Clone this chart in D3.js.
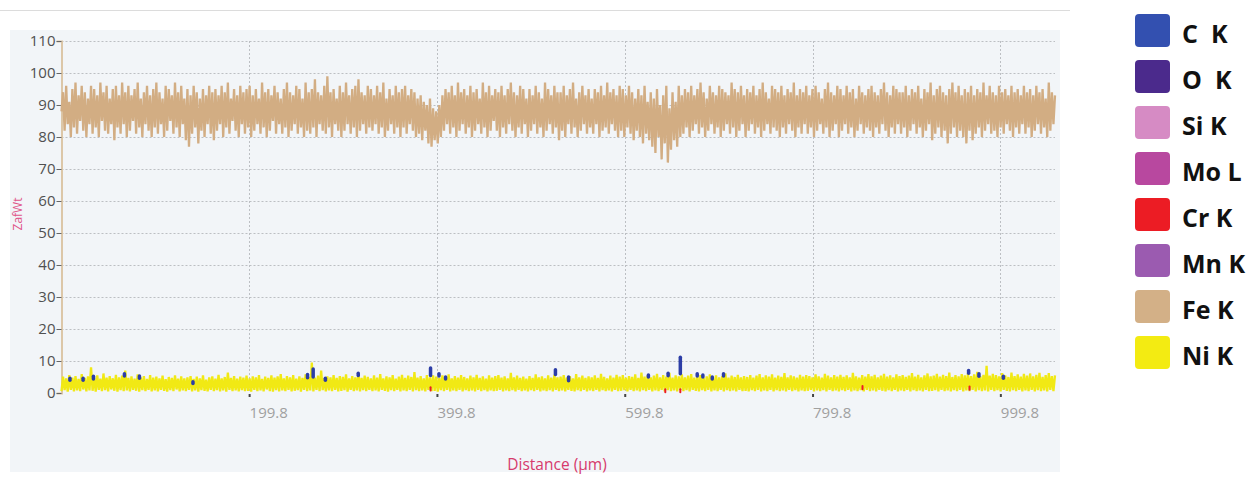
<!DOCTYPE html>
<html>
<head>
<meta charset="utf-8">
<script src="https://cdn.jsdelivr.net/npm/d3@7"></script>
<style>
  body { margin: 0; background: #ffffff; }
  svg { display: block; font-family: "Open Sans", "DejaVu Sans", sans-serif; }
</style>
</head>
<body>
<div id="my_dataviz"></div>
<script>
// éléments de la légende
const elements = ["C  K", "O  K", "Si K", "Mo L", "Cr K", "Mn K", "Fe K", "Ni K"];
const couleurs = ["#3350b0", "#4b2a8c", "#d68bc4", "#b8489f", "#ec1c24", "#9b5bb0", "#d3b087", "#f3eb12"];

// graduations
const yTicks = [0, 10, 20, 30, 40, 50, 60, 70, 80, 90, 100, 110];
const xTicks = [199.8, 399.8, 599.8, 799.8, 999.8];
const distMax = 1058;

// Fe K (ZafWt), un point par pas de mesure
const feK = [
  88,94,82,96,84,91,80,95,83,97,81,93,85,96,82,94,80,92,84,96,
  81,95,83,93,80,97,85,94,82,96,81,92,84,95,79,96,83,93,81,97,
  84,94,80,96,82,93,85,95,81,97,83,92,80,94,84,96,82,93,80,95,
  83,97,81,94,84,92,80,96,82,95,85,93,81,97,83,94,80,96,84,92,
  79,95,77,93,81,96,83,94,78,92,82,95,80,93,84,96,81,94,79,95,
  82,93,84,96,80,94,83,97,81,92,85,95,82,93,80,96,84,94,81,95,
  83,96,80,93,82,95,84,92,81,97,83,94,80,95,82,93,85,96,81,94,
  84,92,81,95,83,97,80,94,82,93,84,96,81,95,83,92,80,97,82,94,
  81,95,83,98,80,94,84,93,82,96,81,99,83,94,80,95,84,92,82,96,
  80,94,82,97,84,93,81,95,83,96,80,98,82,94,84,93,81,96,83,95,
  82,93,84,96,81,94,83,97,80,92,82,95,84,93,81,96,83,94,80,95,
  83,96,81,93,84,95,82,94,80,92,81,93,79,91,82,90,78,92,77,89,
  79,88,78,90,80,93,82,95,84,94,81,96,83,93,80,97,82,94,84,95,
  81,93,83,96,80,94,82,95,84,92,81,97,83,94,80,96,82,93,85,95,
  82,94,80,96,83,93,81,95,84,97,82,94,80,93,83,96,81,95,84,92,
  80,95,82,93,84,96,81,94,83,92,80,97,82,95,84,93,81,96,83,94,
  79,94,82,96,80,93,84,95,81,97,83,92,80,94,82,96,84,93,81,95,
  83,92,81,95,84,94,80,96,82,93,83,97,81,94,84,95,82,93,80,96,
  82,95,80,93,83,96,81,94,79,92,82,95,80,93,78,96,81,91,79,94,
  77,92,75,95,80,90,73,93,78,96,72,89,76,94,79,91,77,96,80,93,
  81,95,83,94,80,96,82,93,84,95,81,97,83,94,80,92,82,96,84,94,
  81,93,83,96,80,95,82,94,84,93,81,97,83,95,80,94,82,96,84,93,
  80,95,82,94,84,96,81,93,83,95,80,97,82,94,84,92,81,96,83,95,
  82,94,80,96,83,93,81,95,84,94,82,97,80,93,83,95,81,94,84,96,
  81,93,83,95,80,96,82,94,84,92,81,95,83,97,80,94,82,93,84,96,
  80,95,82,93,84,96,81,94,83,95,80,92,82,96,84,94,81,93,83,95,
  82,96,80,94,83,93,81,95,84,97,82,94,80,93,83,96,81,95,84,94,
  81,94,83,96,80,93,82,95,84,94,81,96,83,92,80,95,82,94,84,97,
  79,93,81,95,83,96,80,94,82,93,78,95,81,97,83,94,80,96,82,93,
  80,95,78,94,82,96,79,93,81,95,83,94,80,97,82,93,84,96,81,94,
  82,93,80,96,83,94,81,95,84,93,82,96,80,94,83,95,81,93,84,96,
  81,94,83,95,80,93,82,96,84,94,81,95,83,92,80,97,82,94,84,93
];

// Ni K (ZafWt)
const niK = [
  0.6,5.1,0.9,4.6,0.4,5.6,1.0,4.8,0.5,5.3,0.8,4.4,0.6,5.9,1.1,4.7,0.5,5.2,0.8,8.0,
  0.7,4.9,0.4,5.5,1.0,4.5,0.6,6.1,0.9,4.8,0.5,5.3,1.1,4.6,0.7,5.7,0.4,4.9,0.9,5.4,
  0.6,7.0,0.8,4.7,0.5,5.2,1.0,4.5,0.7,5.8,0.4,4.9,0.9,5.3,0.6,4.4,1.0,5.6,0.5,4.8,
  0.8,5.1,0.5,4.6,1.0,5.4,0.7,4.3,0.4,5.0,0.9,4.7,0.6,5.5,1.1,4.5,0.5,5.2,0.8,4.6,
  0.6,4.9,1.0,5.3,0.5,4.4,0.8,5.1,0.4,4.6,0.9,5.5,0.7,4.2,0.5,4.9,1.0,5.2,0.6,4.5,
  0.9,5.7,0.5,4.6,0.8,5.0,0.4,6.4,1.0,4.7,0.6,5.3,0.8,4.5,0.5,5.1,0.9,4.8,0.6,5.4,
  0.7,4.6,0.4,5.2,1.0,4.9,0.6,5.6,0.8,4.4,0.5,5.1,1.1,4.7,0.6,5.5,0.4,4.8,0.9,5.2,
  0.5,5.9,0.8,4.6,0.6,5.3,1.0,4.9,0.5,5.6,0.7,4.5,0.9,5.2,0.4,4.7,1.0,5.8,0.6,5.0,
  0.8,9.5,0.5,4.8,1.0,5.4,0.6,7.0,0.9,4.6,0.5,5.2,0.8,4.9,0.6,5.6,1.0,4.7,0.5,5.3,
  0.7,5.0,0.9,5.8,0.4,4.6,1.0,5.3,0.6,4.9,0.8,6.2,0.5,4.7,0.9,5.4,0.6,5.0,1.0,4.6,
  0.6,5.5,0.8,4.8,0.5,5.9,1.0,4.6,0.7,5.2,0.4,4.9,0.9,5.6,0.6,4.5,1.0,5.1,0.5,5.7,
  0.8,4.7,0.6,5.4,1.0,5.0,0.5,6.5,0.9,4.8,0.6,5.3,0.8,4.6,0.5,5.6,1.0,4.9,0.6,5.5,
  0.7,5.1,0.4,4.7,0.9,5.5,0.6,4.9,1.0,5.8,0.5,4.6,0.8,5.3,0.6,4.8,1.0,5.6,0.5,5.0,
  0.9,4.6,0.6,5.4,0.8,4.9,0.5,5.7,1.0,4.7,0.6,5.2,0.9,4.5,0.5,5.5,0.8,4.8,0.6,5.3,
  0.7,5.6,1.0,4.8,0.5,5.2,0.8,4.6,0.6,6.3,0.9,4.9,0.5,5.4,1.0,4.7,0.6,5.1,0.8,4.5,
  0.5,5.3,0.9,4.7,0.6,5.8,1.0,4.9,0.5,5.2,0.8,4.6,0.6,5.5,0.9,4.8,0.5,5.7,1.0,4.9,
  0.6,5.1,0.8,5.6,0.5,4.8,1.0,5.3,0.7,4.6,0.5,5.9,0.9,4.9,0.6,5.4,1.0,4.7,0.5,5.2,
  0.8,4.9,0.6,5.5,1.0,4.7,0.5,6.0,0.9,5.0,0.6,4.6,0.8,5.4,0.5,4.8,1.0,5.7,0.6,5.1,
  0.7,5.6,0.9,4.8,0.5,5.3,1.0,5.0,0.6,5.8,0.8,4.7,0.5,6.4,0.9,5.1,0.6,5.5,1.0,4.9,
  0.5,5.4,0.8,6.0,0.6,4.9,1.0,5.6,0.5,5.1,0.9,6.3,0.6,4.8,0.8,5.5,0.5,5.2,1.0,5.8,
  0.6,4.9,0.9,5.4,0.5,5.9,1.0,4.8,0.7,5.3,0.5,5.6,0.9,4.7,0.6,5.2,1.0,5.8,0.5,5.0,
  0.8,5.5,0.6,4.9,1.0,5.3,0.5,6.1,0.9,4.8,0.6,5.4,0.8,5.0,0.5,5.7,1.0,4.9,0.6,5.3,
  0.7,5.0,0.5,5.6,0.9,4.8,0.6,5.4,1.0,5.9,0.5,4.9,0.8,5.5,0.6,5.1,1.0,5.8,0.5,4.8,
  0.9,5.4,0.6,5.0,0.8,6.2,0.5,4.9,1.0,5.5,0.6,5.2,0.9,4.8,0.5,5.7,0.8,5.1,0.6,5.6,
  0.7,5.3,1.0,4.9,0.5,5.8,0.8,5.2,0.6,4.8,0.9,6.0,0.5,5.4,1.0,4.9,0.6,5.6,0.8,5.1,
  0.5,5.7,0.9,5.0,0.6,5.5,1.0,4.9,0.5,6.3,0.8,5.2,0.6,4.8,0.9,5.6,0.5,5.1,1.0,5.9,
  0.6,5.2,0.8,5.7,0.5,4.9,1.0,5.4,0.7,6.0,0.5,5.1,0.9,5.5,0.6,4.9,1.0,5.8,0.5,5.3,
  0.8,5.6,0.6,5.0,1.0,5.4,0.5,6.2,0.9,5.1,0.6,5.7,0.8,4.9,0.5,5.5,1.0,6.1,0.6,5.2,
  0.7,5.4,0.9,6.0,0.5,5.1,1.0,5.7,0.6,5.3,0.8,6.4,0.5,5.0,0.9,5.6,0.6,5.2,1.0,5.9,
  0.5,5.5,0.8,6.1,0.6,5.3,1.0,5.8,0.5,6.6,0.9,5.2,0.6,5.7,0.8,8.5,0.5,5.4,1.0,6.0,
  0.6,5.6,0.9,5.2,0.5,6.2,1.0,5.5,0.7,5.0,0.5,6.4,0.9,5.3,0.6,5.8,1.0,5.1,0.5,6.0,
  0.8,5.4,0.6,6.1,1.0,5.2,0.5,5.7,0.9,6.3,0.6,5.0,0.8,5.6,0.5,6.2,1.0,5.3,0.6,5.5
];

// pics de C K qui dépassent de la bande Ni
const cDist = [9,23,34,67,83,140,262,268,281,316,393,402,409,526,540,625,646,659,677,683,693,705,966,977,1003];
const cHaut = [4.6,4.6,5.2,6.0,5.3,3.5,5.8,7.5,4.6,6.2,7.8,6.0,5.0,7.3,5.0,5.6,6.2,11.2,6.0,5.6,5.0,6.0,7.0,6.0,5.2];
const cBas  = [4.0,4.0,4.4,5.3,4.6,3.0,4.8,5.0,4.0,5.5,5.5,5.3,4.4,5.8,3.8,5.0,5.4,6.0,5.3,5.0,4.4,5.3,6.2,5.2,4.6];

// pics de Cr K
const crDist = [393, 643, 659, 853, 967];
const crHaut = [1.8, 1.2, 1.2, 2.2, 2.0];

function dessiner() {
    const width = 1259;
    const height = 477;
    const pas = distMax / (feK.length - 1);

    const svg = d3.select("#my_dataviz")
        .append("svg")
        .attr("width", width)
        .attr("height", height);

    // fond du panneau
    svg.append("rect")
        .attr("x", 10).attr("y", 30)
        .attr("width", 1050).attr("height", 442)
        .attr("fill", "#f2f5f8");

    // ligne du haut
    svg.append("line")
        .attr("x1", 0).attr("x2", 1070)
        .attr("y1", 10.5).attr("y2", 10.5)
        .attr("stroke", "#dcdcdc");

    const x = d3.scaleLinear().domain([0, distMax]).range([61.5, 1055]);
    const y = d3.scaleLinear().domain([0, 110]).range([393, 41]);

    // grille
    svg.append("g")
        .selectAll("line")
        .data(yTicks.filter(d => d > 0))
        .join("line")
        .attr("x1", x(0)).attr("x2", x(distMax))
        .attr("y1", d => Math.round(y(d)) + 0.5)
        .attr("y2", d => Math.round(y(d)) + 0.5)
        .attr("stroke", "#bcbfc3")
        .attr("stroke-dasharray", "2,2");

    svg.append("g")
        .selectAll("line")
        .data(xTicks)
        .join("line")
        .attr("x1", d => Math.round(x(d)) + 0.5).attr("x2", d => Math.round(x(d)) + 0.5)
        .attr("y1", y(110)).attr("y2", y(0))
        .attr("stroke", "#bcbfc3")
        .attr("stroke-dasharray", "2,2");

    // axe Y
    const axeY = svg.append("g")
        .attr("transform", "translate(" + x(0) + ",0)")
        .call(d3.axisLeft(y).tickValues(yTicks).tickSize(5).tickPadding(1));
    axeY.select(".domain").attr("stroke", "#dcc7a8").attr("stroke-width", 2);
    axeY.selectAll(".tick line").attr("stroke", "#666");
    axeY.selectAll(".tick text")
        .attr("fill", "#505050")
        .style("font-size", "15px")
        .style("font-family", "'Open Sans', sans-serif");

    // axe X
    const axeX = svg.append("g")
        .attr("transform", "translate(0," + (y(0) + 1) + ")")
        .call(d3.axisBottom(x).tickValues(xTicks).tickFormat(d3.format(".1f")).tickSize(3).tickPadding(10));
    axeX.select(".domain").remove();
    axeX.selectAll(".tick line").attr("stroke", "#444").attr("stroke-width", 2);
    axeX.selectAll(".tick text")
        .attr("text-anchor", "start")
        .attr("fill", "#a0a0a0")
        .style("font-size", "15px")
        .style("font-family", "'Open Sans', sans-serif");

    // étiquettes des axes
    svg.append("text")
        .attr("x", 557).attr("y", 470)
        .attr("text-anchor", "middle")
        .attr("fill", "#d63a6c")
        .style("font-size", "15.5px")
        .text("Distance (µm)");

    svg.append("text")
        .attr("transform", "translate(22,214) rotate(-90)")
        .attr("text-anchor", "middle")
        .attr("fill", "#e0558a")
        .style("font-size", "12px")
        .text("ZafWt");

    // courbes
    const ligne = d3.line()
        .x((d, i) => x(i * pas))
        .y(d => y(d));

    svg.append("path")
        .datum(feK)
        .attr("d", ligne)
        .attr("fill", "none")
        .attr("stroke", "#d2ad83")
        .attr("stroke-width", 2.3);

    svg.append("path")
        .datum(niK)
        .attr("d", ligne)
        .attr("fill", "none")
        .attr("stroke", "#f1e914")
        .attr("stroke-width", 2.3);

    // pics de C K
    svg.append("g")
        .selectAll("line")
        .data(cDist)
        .join("line")
        .attr("x1", d => x(d)).attr("x2", d => x(d))
        .attr("y1", (d, i) => y(cBas[i]))
        .attr("y2", (d, i) => y(cHaut[i]))
        .attr("stroke", "#2c3da6")
        .attr("stroke-width", 3.5)
        .attr("stroke-linecap", "round");

    // pics de Cr K
    svg.append("g")
        .selectAll("line")
        .data(crDist)
        .join("line")
        .attr("x1", d => x(d)).attr("x2", d => x(d))
        .attr("y1", (d, i) => y(crHaut[i] - 1))
        .attr("y2", (d, i) => y(crHaut[i]))
        .attr("stroke", couleurs[4])
        .attr("stroke-width", 2)
        .attr("stroke-linecap", "round");

    // légende
    const legende = svg.append("g")
        .selectAll("g")
        .data(elements)
        .join("g")
        .attr("transform", (d, i) => "translate(1135," + (14 + i * 46) + ")");

    legende.append("rect")
        .attr("width", 35).attr("height", 33)
        .attr("rx", 4)
        .attr("fill", (d, i) => couleurs[i]);

    legende.append("text")
        .attr("x", 47).attr("y", 29)
        .attr("fill", "#111")
        .style("font-size", "25px")
        .style("font-weight", "bold")
        .style("white-space", "pre")
        .attr("xml:space", "preserve")
        .text(d => d);
}

dessiner();
</script>
</body>
</html>
